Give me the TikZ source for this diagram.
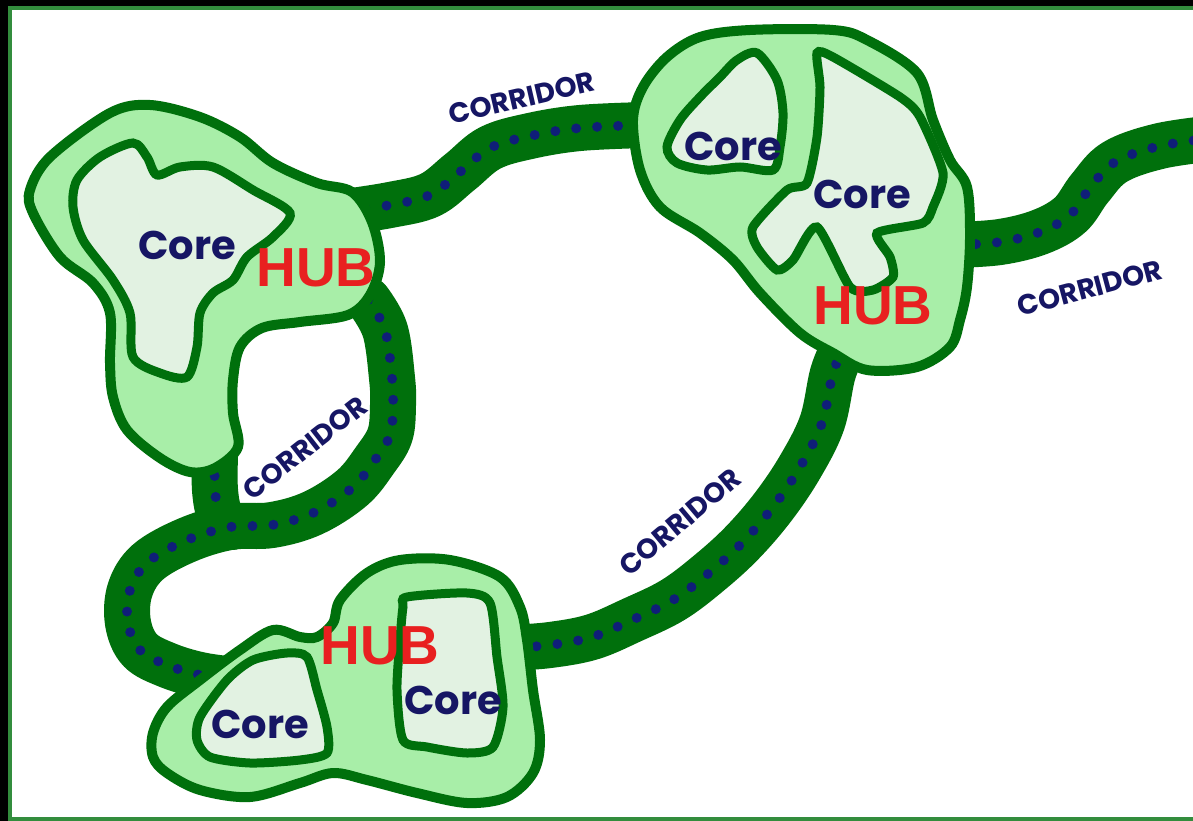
\documentclass[tikz,border=0pt]{standalone}
\usepackage{fontspec}
\setmainfont{Liberation Sans}
\newfontfamily\geofont{Poppins}
\usetikzlibrary{calc}
\definecolor{CorridorGreen}{RGB}{0, 112, 12}
\definecolor{HubFill}{RGB}{168, 238, 168}
\definecolor{CoreFill}{RGB}{226, 242, 226}
\definecolor{TrackBlue}{RGB}{15, 30, 120}
\definecolor{LabelNavy}{RGB}{22, 22, 100}
\definecolor{HubRed}{RGB}{232, 32, 32}

\begin{document}
\begin{tikzpicture}[x=1pt, y=-1pt,
    corridor/.style={line width=46pt, color=CorridorGreen, line cap=round, line join=round},
    track/.style={line width=10pt, color=TrackBlue, line cap=round, dash pattern=on 0pt off 21pt},
    hubpatch/.style={draw=CorridorGreen, line width=10pt, fill=HubFill},
    corepatch/.style={draw=CorridorGreen, line width=9pt, fill=CoreFill},
    corelabel/.style={text=LabelNavy, font=\geofont\bfseries\fontsize{40}{40}\selectfont},
    hublabel/.style={text=HubRed, font=\bfseries\fontsize{55}{55}\selectfont},
    corrlabel/.style={text=LabelNavy, font=\geofont\bfseries\fontsize{28}{28}\selectfont}]

    \useasboundingbox (0,0) rectangle (1193,821);

    % --- Frame ---
    \fill[black] (0,0) rectangle (1193,821);
    \draw[line width=4pt, draw=CorridorGreen!80, fill=white] (10,8) rectangle (1200,819);

    % --- Corridors (band + dotted track) ---
    % stem below the left hub
    \draw[corridor, postaction={draw, track}] plot[smooth, tension=0.6] coordinates {
        (215,455) (215,490) (220,515) (232,527)};
    % loop from the left hub down to the bottom hub
    \draw[corridor, postaction={draw, track}] plot[smooth, tension=0.6] coordinates {
        (368,300) (385,330) (392,378) (393,405) (390,435) (375,460) (352,488)
        (313,513) (272,525) (230,527) (187,540) (148,562) (130,590) (128,623)
        (140,650) (167,665) (200,675) (235,680)};
    % top corridor
    \draw[corridor, postaction={draw, track}] plot[smooth, tension=0.6] coordinates {
        (345,212) (390,205) (430,195) (460,172) (490,148) (530,136) (580,128) (645,125)};
    % right corridor, leaves the picture
    \draw[corridor, postaction={draw, track}] plot[smooth, tension=0.6] coordinates {
        (955,245) (1000,242) (1040,232) (1070,215) (1090,188) (1115,162) (1160,146) (1215,138)};
    % long curved corridor
    \draw[corridor, postaction={draw, track}] plot[smooth, tension=0.6] coordinates {
        (845,345) (833,373) (822,423) (800,467) (773,507) (742,543) (709,573)
        (673,600) (632,620) (592,637) (550,645) (510,648)};

    % --- Hubs ---
    \draw[hubpatch] plot[smooth cycle, tension=0.55] coordinates {
        (30,190) (50,157) (110,113) (150,105) (200,117) (240,137) (273,163) (317,183)
        (352,192) (372,222) (380,262) (370,295) (348,315) (300,322) (262,328) (240,347)
        (233,380) (233,413) (238,447) (215,468) (190,472) (160,458) (127,430) (113,397)
        (110,363) (110,313) (93,283) (60,257) (33,213)};
    \draw[hubpatch] plot[smooth cycle, tension=0.55] coordinates {
        (633,120) (643,87) (667,57) (700,37) (750,30) (833,30) (867,40) (917,73)
        (933,120) (950,160) (967,187) (970,237) (967,287) (960,320) (950,347) (917,367)
        (867,370) (833,353) (800,333) (760,293) (733,260) (700,233) (660,207) (640,170)};
    \draw[hubpatch] plot[smooth cycle, tension=0.55] coordinates {
        (153,733) (167,707) (200,680) (240,650) (273,630) (300,637) (317,637) (333,623)
        (340,600) (367,573) (400,560) (450,560) (500,577) (520,607) (527,640) (533,690)
        (540,740) (533,773) (507,797) (467,803) (417,793) (367,780) (333,773) (300,783)
        (250,797) (200,790) (167,773) (153,757)};

    % --- Cores ---
    \draw[corepatch] plot[smooth cycle, tension=0.5] coordinates {
        (77,180) (100,157) (133,143) (147,157) (157,175) (180,167) (213,167) (253,190)
        (290,213) (273,237) (247,257) (233,280) (213,293) (200,313) (197,347) (187,377)
        (160,373) (133,357) (130,313) (113,280) (83,240) (73,207)};
    \draw[corepatch] plot[smooth cycle, tension=0.5] coordinates {
        (667,147) (680,120) (700,97) (720,77) (737,60) (757,53) (777,80) (783,113)
        (780,147) (773,170) (740,167) (707,170) (677,163)};
    \draw[corepatch] plot[smooth cycle, tension=0.4] coordinates {
        (817,53) (833,57) (900,97) (920,117) (943,173) (933,207) (923,223) (877,233)
        (890,257) (893,277) (873,290) (850,287) (817,227) (793,260) (777,270) (757,247)
        (753,227) (787,190) (807,183) (817,137) (820,87)};
    \draw[corepatch] plot[smooth cycle, tension=0.45] coordinates {
        (200,717) (227,680) (253,660) (287,653) (307,657) (317,690) (327,727) (327,753)
        (300,760) (250,763) (210,757) (197,740)};
    \draw[corepatch] plot[smooth cycle, tension=0.45] coordinates {
        (407,597) (467,593) (490,603) (497,657) (503,707) (493,747) (467,753) (427,747)
        (403,740) (397,690) (400,640) (403,607)};

    % --- Labels ---
    \node[corelabel] (coreW)  at (187,245) {Core};
    \node[corelabel] (coreNa) at (733,146) {Core};
    \node[corelabel] (coreNb) at (862,194) {Core};
    \node[corelabel] (coreSa) at (260,724) {Core};
    \node[corelabel] (coreSb) at (453,700) {Core};
    \node[hublabel] (hubW) at (316,268) {HUB};
    \node[hublabel] (hubN) at (873,306) {HUB};
    \node[hublabel] (hubS) at (380,646) {HUB};
    \node[corrlabel, rotate=13] (corrTop)   at (522,98)  {CORRIDOR};
    \node[corrlabel, rotate=15] (corrRight) at (1090,288) {CORRIDOR};
    \node[corrlabel, rotate=40] (corrLong)  at (680,522)  {CORRIDOR};
    \node[corrlabel, rotate=38] (corrLoop)  at (305,448)  {CORRIDOR};

\end{tikzpicture}
\end{document}
